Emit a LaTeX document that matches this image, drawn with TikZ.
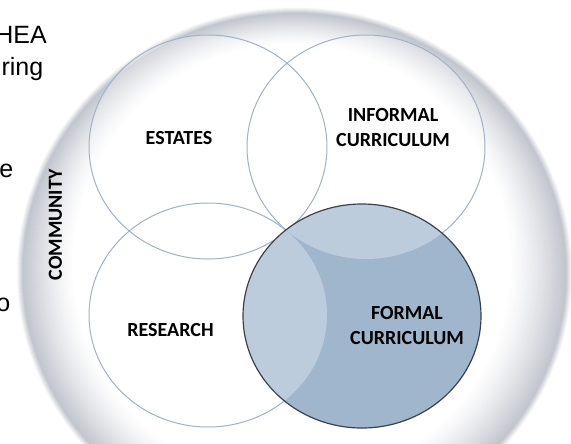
\documentclass[tikz,border=0pt]{standalone}
\usepackage{fontspec}
\setmainfont{Liberation Sans}
\newfontfamily\calibri{Carlito}
\definecolor{rim}{RGB}{190,194,202}
\definecolor{venn}{RGB}{160,178,198}
\definecolor{formalfill}{RGB}{160,182,205}
\definecolor{formaledge}{RGB}{60,66,76}
\begin{document}
\begin{tikzpicture}[x=0.75pt,y=-0.75pt]
\tikzset{circletext/.style = {font=\calibri\bfseries\fontsize{15}{18.75}\selectfont, align=center, inner sep=0pt},
  slidetext/.style = {font=\fontsize{18.75}{22.5}\selectfont, anchor=base east, inner sep=0pt},
  outline/.style = {draw=venn, line width=0.75pt},
  veil/.style = {fill=white, fill opacity=0.3}}
\def\rx{119};
\def\ry{112};
\useasboundingbox (0,0) rectangle (571,443);
\clip (0,0) rectangle (571,443);
\foreach \i in {6,...,1} {
  \pgfmathtruncatemacro\p{95-15*\i}
  \fill[rim!\p!white] (294.5,273) ellipse ({272+\i} and {260+\i});
}
\foreach \i in {0,...,50} {
  \pgfmathsetmacro\t{\i/50}
  \pgfmathtruncatemacro\p{95*(1-\t)^1.3}
  \fill[rim!\p!white] (294.5-3*\t,273-10*\t) ellipse ({272-55*\t} and {260-42*\t});
}
\coordinate (E) at (208,147);
\coordinate (I) at (366,147);
\coordinate (R) at (208,315);
\coordinate (F) at (362,316);
\fill[veil] (E) ellipse ({\rx} and {\ry});
\fill[veil] (I) ellipse ({\rx} and {\ry});
\fill[veil] (R) ellipse ({\rx} and {\ry});
\draw[outline] (E) ellipse ({\rx} and {\ry});
\draw[outline] (I) ellipse ({\rx} and {\ry});
\draw[outline] (R) ellipse ({\rx} and {\ry});
\fill[formalfill] (F) ellipse ({\rx} and {\ry});
\begin{scope}
\clip (F) ellipse ({\rx} and {\ry});
\fill[veil] (I) ellipse ({\rx} and {\ry});
\fill[veil] (R) ellipse ({\rx} and {\ry});
\end{scope}
\draw[formaledge, line width=0.9pt] (F) ellipse ({\rx} and {\ry});
\node[circletext] (estates) at (179,138.5) {ESTATES};
\node[circletext] (informal) at (393,127.5) {INFORMAL\\CURRICULUM};
\node[circletext] (research) at (170.5,330) {RESEARCH};
\node[circletext] (formal) at (407,325.5) {FORMAL\\CURRICULUM};
\node[circletext, rotate=90] (community) at (55.5,225) {COMMUNITY};
\node[slidetext] (hea) at (47,43) {HEA};
\node[slidetext] (ring) at (43.5,75) {ring};
\node[slidetext] (e) at (13.5,177.5) {e};
\node[slidetext] (o) at (10.5,311) {o};
\end{tikzpicture}
\end{document}
